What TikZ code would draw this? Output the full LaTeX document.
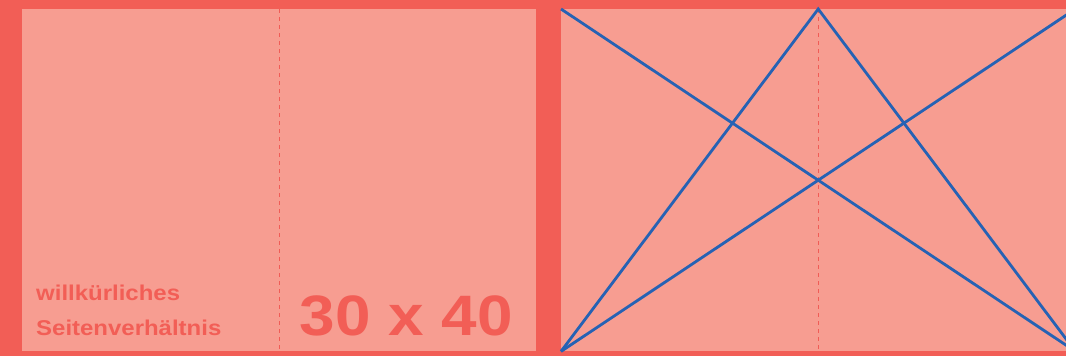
\documentclass[tikz,border=0pt]{standalone}
\usepackage{fontspec}
\setmainfont{Liberation Sans}[FakeStretch=1.12]
\definecolor{bordercol}{RGB}{242,94,86}
\definecolor{panelcol}{RGB}{247,157,145}
\definecolor{bluecol}{RGB}{38,98,180}
\definecolor{dashcol}{RGB}{240,92,86}
\tikzset{
  panel/.style={draw=none,fill=panelcol,minimum width=514pt,minimum height=342pt,inner sep=0pt,anchor=north west},
  dashline/.style={draw=dashcol,line width=1pt,dash pattern=on 4pt off 4pt},
  blueline/.style={draw=bluecol,line width=2.8pt,line join=miter},
  lbl/.style={text=bordercol,font=\fontsize{21.4}{25}\selectfont\bfseries,inner sep=0pt,anchor=base west},
  bignum/.style={text=bordercol,font=\fontsize{57}{60}\selectfont\bfseries,inner sep=0pt,anchor=base east}
}
\begin{document}
\begin{tikzpicture}[x=1pt,y=-1pt]
\useasboundingbox (0,0) rectangle (1066,356);
\clip (0,0) rectangle (1066,356);
\fill[bordercol] (0,0) rectangle (1066,356);
\node[panel] (L) at (22,9) {};
\node[panel] (R) at (561,9) {};
\draw[dashline] (L.north) -- (L.south);
\draw[dashline] (R.north) -- (R.south);
\draw[blueline] (R.north west) -- (R.south east);
\draw[blueline] (R.south west) -- (R.north east);
\draw[blueline] (R.south west) -- (R.north) -- (R.south east);
\node[lbl] (t1) at (36,300) {willkürliches};
\node[lbl] (t2) at (36,335) {Seitenverhältnis};
\node[bignum] (t3) at (513,335) {30 x 40};
\end{tikzpicture}
\end{document}
